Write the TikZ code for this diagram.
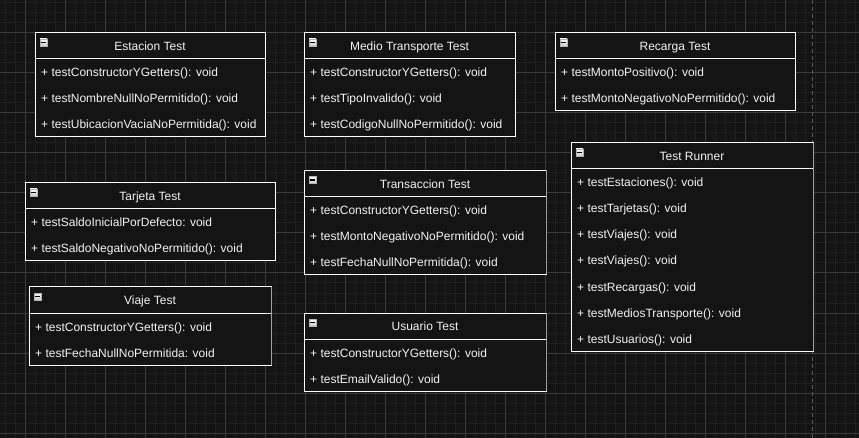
\documentclass[tikz,border=0pt]{standalone}
\usepackage{fontspec}
\setmainfont{Liberation Sans}
\definecolor{bgcol}{HTML}{141414}
\definecolor{minorgrid}{HTML}{1E1E1E}
\definecolor{majorgrid}{HTML}{3A3A3A}
\definecolor{txtcol}{HTML}{F2F2F2}
\definecolor{dashcol}{HTML}{5A5A5A}
\tikzset{
  classbox/.style={draw=white, line width=1pt, fill=bgcol, rectangle, inner sep=0pt, outer sep=0pt, anchor=north west},
  classline/.style={draw=white, line width=1pt},
  classtitle/.style={text=txtcol, font=\fontsize{12}{14}\selectfont, inner sep=0pt, anchor=base},
  classrow/.style={text=txtcol, font=\fontsize{12}{14}\selectfont, inner sep=0pt, anchor=base west},
  iconbox/.style={draw=gray!60, line width=0.6pt, top color=gray!5, bottom color=gray!40, minimum width=7pt, minimum height=7pt, inner sep=0pt, rectangle},
  gridminor/.style={draw=minorgrid, line width=1pt},
  gridmajor/.style={draw=majorgrid, line width=1pt},
  sideline/.style={draw=gray!75, line width=1pt}
}
\newcommand{\umlbox}[7]{%
  \pgfmathsetmacro\boxh{26*(#5+1)}%
  \node[classbox, minimum width=#4pt, minimum height=\boxh pt] (#1) at (#2,#3) {};
  \draw[classline] ([yshift=-26pt]#1.north west) -- ([yshift=-26pt]#1.north east);
  \node[classtitle] (#1-title) at ([yshift=-17.8pt]#1.north) {#6};
  \node[iconbox] (#1-icon) at ([xshift=8.5pt,yshift=-9.5pt]#1.north west) {};
  \draw[black, line width=1.4pt] ([xshift=-2.2pt]#1-icon.center) -- ([xshift=2.2pt]#1-icon.center);
  \foreach[count=\i] \r in {#7} {
    \node[classrow] (#1-r\i) at ([xshift=6pt,yshift={-(26*\i+18)}]#1.north west) {\r};
  }
}
\begin{document}
\begin{tikzpicture}[x=1pt,y=-1pt]
  \useasboundingbox (0,0) rectangle (859,438);
  \fill[bgcol] (0,0) rectangle (859,438);
  % minor grid
  \foreach \x in {5,15,...,855} { \draw[gridminor] (\x,0) -- (\x,438); }
  \foreach \y in {3,13,...,433} { \draw[gridminor] (0,\y) -- (859,\y); }
  % major grid
  \foreach \x in {25,65,...,825} { \draw[gridmajor] (\x,0) -- (\x,438); }
  \foreach \y in {33,73,...,433} { \draw[gridmajor] (0,\y) -- (859,\y); }
  % page border (dashed)
  \coordinate (pgtop) at (812.3,0);
  \coordinate (pgbot) at (812.3,438);
  \draw[dashcol, line width=1pt, dash pattern=on 4pt off 3pt] (pgtop) -- (pgbot);

  \umlbox{estacion}{35}{33}{230}{3}{Estacion Test}{+ testConstructorYGetters(): void, + testNombreNullNoPermitido(): void, + testUbicacionVaciaNoPermitida(): void}
  \umlbox{medio}{304}{33}{211}{3}{Medio Transporte Test}{+ testConstructorYGetters(): void, + testTipoInvalido(): void, + testCodigoNullNoPermitido(): void}
  \umlbox{recarga}{555}{33}{240}{2}{Recarga Test}{+ testMontoPositivo(): void, + testMontoNegativoNoPermitido(): void}
  \umlbox{runner}{571}{143}{242}{7}{Test Runner}{+ testEstaciones(): void, + testTarjetas(): void, + testViajes(): void, + testViajes(): void, + testRecargas(): void, + testMediosTransporte(): void, + testUsuarios(): void}
  \umlbox{tarjeta}{25}{183}{250}{2}{Tarjeta Test}{+ testSaldoInicialPorDefecto: void, + testSaldoNegativoNoPermitido(): void}
  \umlbox{transaccion}{304}{170.5}{242}{3}{Transaccion Test}{+ testConstructorYGetters(): void, + testMontoNegativoNoPermitido(): void, + testFechaNullNoPermitida(): void}
  \umlbox{viaje}{29}{287}{242}{2}{Viaje Test}{+ testConstructorYGetters(): void, + testFechaNullNoPermitida: void}
  \umlbox{usuario}{304}{313}{242}{2}{Usuario Test}{+ testConstructorYGetters(): void, + testEmailValido(): void}

  % lighter right edges
  \foreach \b in {runner,transaccion,viaje,usuario} {
    \draw[sideline] (\b.north east) -- (\b.south east);
  }
\end{tikzpicture}
\end{document}
